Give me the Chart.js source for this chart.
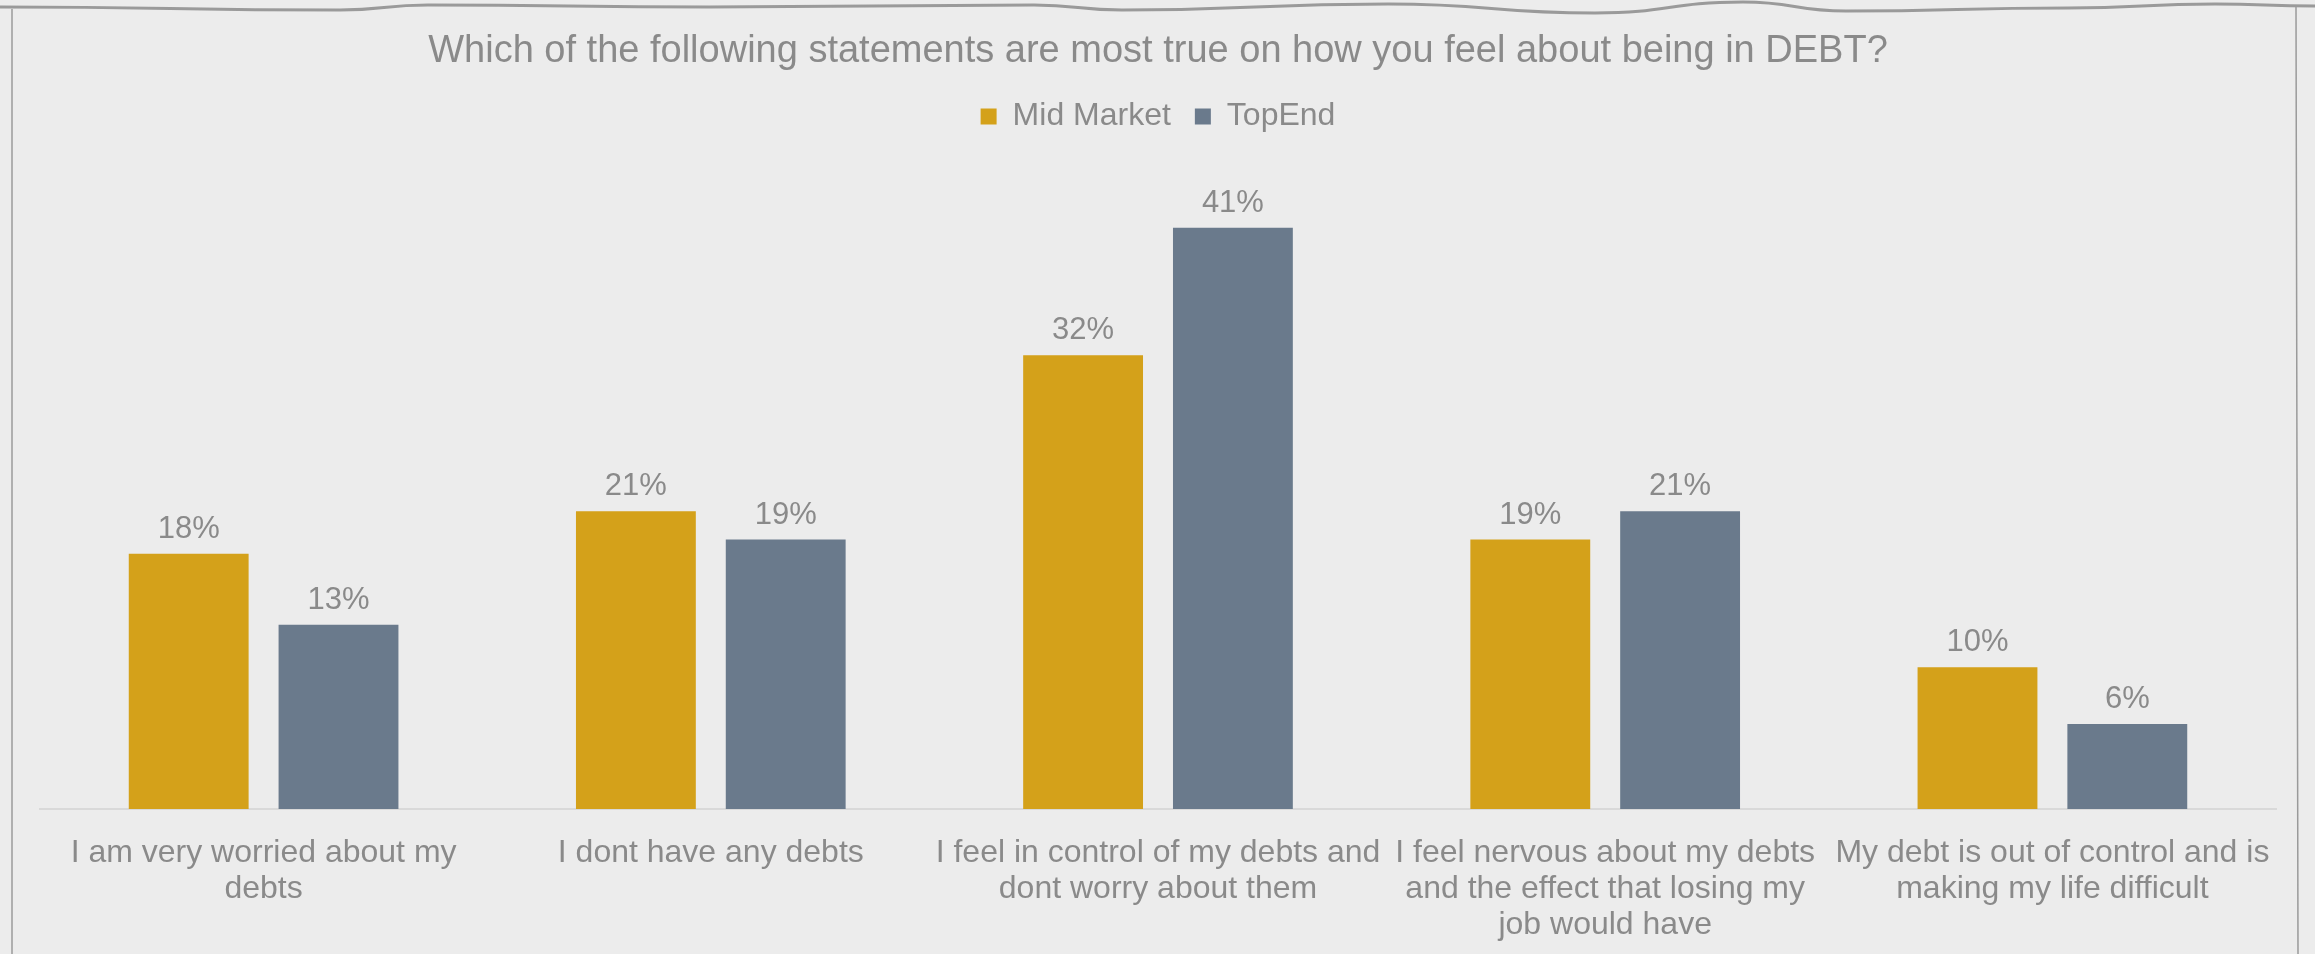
<!DOCTYPE html>
<html>
<head>
<meta charset="utf-8">
<title>Debt survey</title>
<script src="https://cdn.jsdelivr.net/npm/chart.js@4/dist/chart.umd.min.js"></script>
<style>
  html, body { margin: 0; padding: 0; background: #ececec; }
  canvas { display: block; }
</style>
</head>
<body>
<canvas id="debt-chart" width="2315" height="954"></canvas>
<script>
// Survey answers, one label line per array entry
const statements = [
  ['I am very worried about my', 'debts'],
  ['I dont have any debts'],
  ['I feel in control of my debts and', 'dont worry about them'],
  ['I feel nervous about my debts', 'and the effect that losing my', 'job would have'],
  ['My debt is out of control and is', 'making my life difficult']
];
const midMarket = [18, 21, 32, 19, 10];
const topEnd = [13, 19, 41, 21, 6];

const textGrey = '#8a8a8a';
const fontName = '"Liberation Sans", Arial, sans-serif';

// Paper background + the hand drawn frame
const paperFrame = {
  id: 'paperFrame',
  beforeDraw(c) {
    const ctx = c.ctx;
    ctx.save();
    ctx.fillStyle = '#ececec';
    ctx.fillRect(0, 0, c.width, c.height);
    ctx.restore();
  },
  afterDraw(c) {
    const ctx = c.ctx;
    const h = c.height;
    const wave = [[0, 7], [340, 10], [428, 5], [709, 7], [1034, 5], [1122, 10], [1388, 4], [1595, 13], [1743, 2], [1846, 11], [2068, 8], [2215, 4], [2315, 6]];
    ctx.save();
    ctx.strokeStyle = '#9a9a9a';
    ctx.lineWidth = 3;
    ctx.beginPath();
    ctx.moveTo(wave[0][0], wave[0][1]);
    for (let i = 1; i < wave.length; i++) {
      const p = wave[i - 1], q = wave[i];
      const mx = (p[0] + q[0]) / 2;
      ctx.bezierCurveTo(mx, p[1], mx, q[1], q[0], q[1]);
    }
    ctx.stroke();
    ctx.lineWidth = 1.5;
    ctx.beginPath();
    ctx.moveTo(12, 9);
    ctx.lineTo(12, h);
    ctx.moveTo(2296, 7);
    ctx.lineTo(2298, h);
    ctx.stroke();
    ctx.restore();
  }
};

// Percentage labels above each bar
const barValues = {
  id: 'barValues',
  afterDatasetsDraw(c) {
    const ctx = c.ctx;
    ctx.save();
    ctx.fillStyle = textGrey;
    ctx.font = '31px ' + fontName;
    ctx.textAlign = 'center';
    ctx.textBaseline = 'alphabetic';
    c.data.datasets.forEach((ds, i) => {
      c.getDatasetMeta(i).data.forEach((bar, j) => {
        ctx.fillText(ds.data[j] + '%', bar.x, bar.y - 16);
      });
    });
    ctx.restore();
  }
};

let chart = new Chart('debt-chart', {
  type: 'bar',
  data: {
    labels: statements,
    datasets: [{
      label: 'Mid Market',
      data: midMarket,
      backgroundColor: '#d4a11a',
      barPercentage: 0.8,
      categoryPercentage: 0.67
    }, {
      label: 'TopEnd',
      data: topEnd,
      backgroundColor: '#6a7a8c',
      barPercentage: 0.8,
      categoryPercentage: 0.67
    }]
  },
  options: {
    responsive: false,
    animation: false,
    devicePixelRatio: 1,
    layout: { padding: { left: 40, right: 39, top: 0, bottom: 0 } },
    plugins: {
      title: {
        display: true,
        text: 'Which of the following statements are most true on how you feel about being in DEBT?',
        color: textGrey,
        font: { family: fontName, size: 38, weight: 'normal' },
        padding: { top: 29, bottom: 2 }
      },
      legend: {
        position: 'top',
        labels: {
          boxWidth: 16,
          boxHeight: 16,
          padding: 24,
          color: textGrey,
          font: { family: fontName, size: 32 }
        }
      },
      tooltip: { enabled: false }
    },
    scales: {
      x: {
        grid: { display: false, drawTicks: false },
        border: { display: true, color: '#d9d9d9', width: 2 },
        ticks: {
          color: textGrey,
          font: { family: fontName, size: 32, lineHeight: 1.13 },
          padding: 26,
          autoSkip: false,
          maxRotation: 0,
          minRotation: 0
        },
        // fixed room under the bars for up to three label lines
        afterFit(scale) {
          scale.height = 145;
        }
      },
      y: {
        display: false,
        min: 0,
        max: 47
      }
    }
  },
  plugins: [paperFrame, barValues]
});
</script>
</body>
</html>
